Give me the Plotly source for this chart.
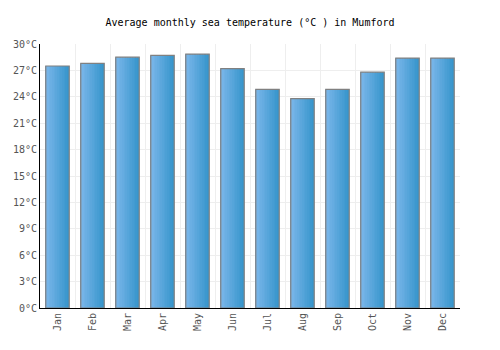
import plotly.graph_objects as go

months = ["Jan", "Feb", "Mar", "Apr", "May", "Jun", "Jul", "Aug", "Sep", "Oct", "Nov", "Dec"]
temps = [27.5, 27.8, 28.5, 28.7, 28.85, 27.2, 24.85, 23.8, 24.85, 26.8, 28.4, 28.4]
yticks = list(range(0, 31, 3))
ytick_labels = [f"{v}°C" for v in yticks]

fig = go.Figure()

bar_w = 0.67
n_strips = 14
c0 = (122, 182, 234)
c1 = (56, 150, 204)
sw = bar_w / n_strips
for i in range(n_strips):
    t = i / (n_strips - 1)
    col = tuple(round(a + (b - a) * t) for a, b in zip(c0, c1))
    fig.add_trace(go.Bar(
        x=months, y=temps, width=sw * 1.05, offset=-bar_w / 2 + i * sw,
        marker=dict(color=f"rgb{col}", line=dict(width=0)),
        hoverinfo="skip", showlegend=False,
    ))
fig.add_trace(go.Bar(
    x=months, y=temps, width=bar_w, offset=-bar_w / 2,
    marker=dict(color="rgba(0,0,0,0)", line=dict(color="#808080", width=1.2)),
    showlegend=False,
))

fig.update_layout(
    barmode="overlay",
    width=500, height=350,
    margin=dict(l=40, r=40, t=44, b=42),
    paper_bgcolor="white", plot_bgcolor="white",
    title=dict(text="Average monthly sea temperature (°C ) in Mumford",
               x=0.5, xanchor="center", y=0.937, yanchor="middle",
               font=dict(family="DejaVu Sans Mono", size=10, color="#000")),
    font=dict(family="DejaVu Sans Mono", size=10, color="#555"),
)
fig.update_xaxes(
    type="category", tickson="boundaries", showgrid=True, gridcolor="#eeeeee",
    tickangle=-90, ticks="", showline=True, linecolor="#000", linewidth=1,
    tickfont=dict(family="DejaVu Sans Mono", size=10, color="#555"),
    range=[-0.5, 11.5],
)
fig.update_yaxes(
    range=[0, 30], tickvals=yticks, ticktext=ytick_labels,
    showgrid=True, gridcolor="#eeeeee", showline=True, linecolor="#000", linewidth=1,
    ticks="", zeroline=False,
    tickfont=dict(family="DejaVu Sans Mono", size=10, color="#555"),
)

fig.write_html("out.html")
